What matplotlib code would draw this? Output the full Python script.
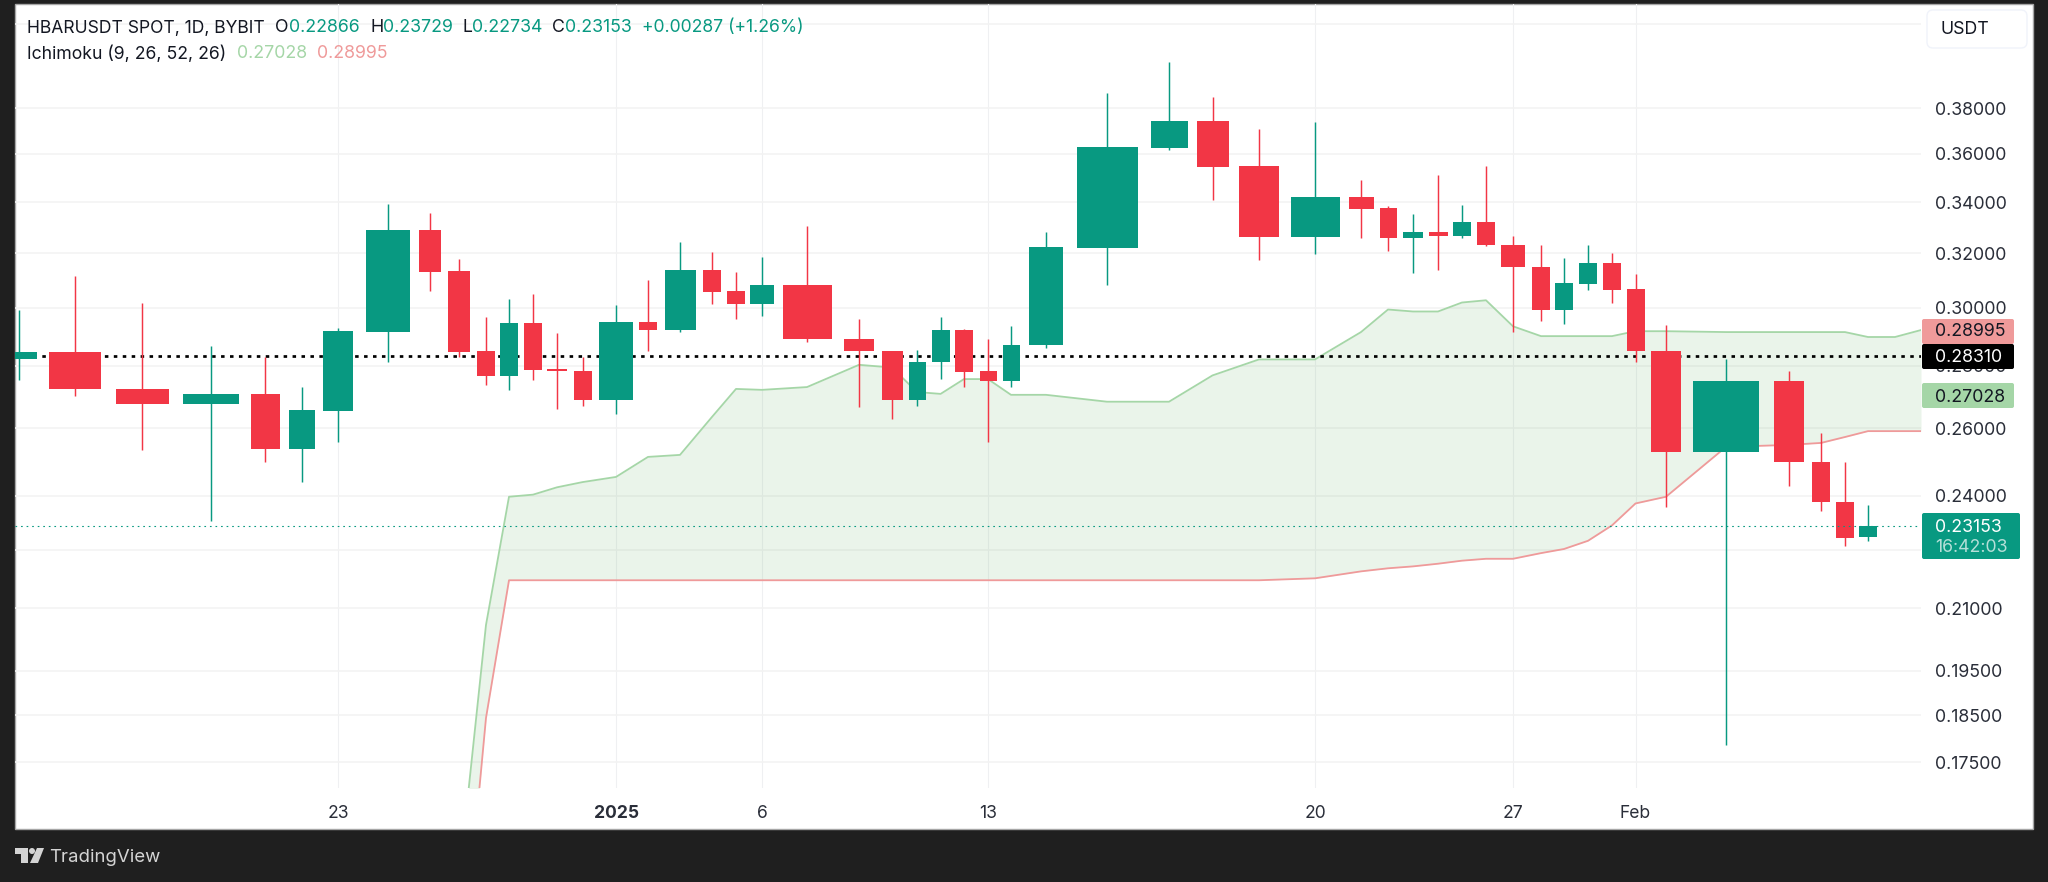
"""HBARUSDT daily candles with Ichimoku cloud, TradingView look."""
import matplotlib
matplotlib.use("Agg")
import matplotlib.pyplot as plt
import numpy as np
from matplotlib.patches import Circle, FancyBboxPatch, Polygon, Rectangle
from matplotlib.ticker import FixedLocator, FuncFormatter, NullLocator

plt.rcParams["font.family"] = ["Inter", "DejaVu Sans"]

# candles, one per day, day 0 = 2024-12-17
opens = [.2821, .2845, .2724, .2676, .2708, .2537, .2654, .2914, .3290, .3133,
         .2848, .2765, .2945, .2790, .2784, .2689, .2948, .2921, .3137, .3059,
         .3011, .3082, .2890, .2848, .2689, .2814, .2921, .2781, .2749, .2869,
         .3220, .3626, .3743, .3550, .3263, .3421, .3376, .3259, .3282, .3267,
         .3322, .3231, .3148, .2990, .3085, .3163, .3067, .2848, .2528, .2749,
         .2498, .2383, .22866]
highs = [.2990, .3115, .3015, .2865, .2828, .2730, .2928, .3392, .3357, .3178,
         .2966, .3030, .3048, .2910, .2828, .3008, .3100, .3243, .3204, .3130,
         .3185, .3306, .2959, .2850, .2852, .2966, .2924, .2890, .2934, .3282,
         .3870, .4013, .3851, .3709, .3739, .3492, .3384, .3353, .3512, .3388,
         .3550, .3267, .3231, .3182, .3231, .3200, .3122, .2938, .2821, .2781,
         .2585, .2498, .23729]
lows = [.2752, .2702, .2534, .2328, .2498, .2439, .2558, .2814, .3059, .2828,
        .2737, .2721, .2752, .2660, .2670, .2645, .2848, .2915, .3011, .2959,
        .2969, .2879, .2667, .2629, .2670, .2756, .2730, .2558, .2730, .2859,
        .3082, .3617, .3408, .3174, .3196, .3259, .3208, .3126, .3137, .3259,
        .3228, .2914, .2952, .2941, .3063, .3018, .2814, .2367, .1786, .2427,
        .2358, .2261, .22734]
closes = [.2845, .2724, .2676, .2708, .2537, .2657, .2917, .3290, .3130, .2845,
          .2765, .2945, .2787, .2784, .2689, .2948, .2921, .3137, .3056, .3011,
          .3082, .2890, .2848, .2689, .2814, .2921, .2778, .2749, .2869, .3224,
          .3630, .3743, .3546, .3263, .3421, .3373, .3259, .3282, .3267, .3322,
          .3231, .3148, .2990, .3089, .3163, .3063, .2848, .2528, .2749, .2498,
          .2383, .2283, .23153]

# ichimoku spans, starting at cloud_start_day and running past the last candle
cloud_start_day = 9
span_a = [.1521, .2059, .2397, .2403, .2424, .2439, .2454, .2513, .2519, .2635,
          .2724, .2721, .2730, .2803, .2794, .2714, .2708, .2756, .2756, .2705,
          .2705, .2683, .2683, .2768, .2821, .2821, .2914, .2993, .2986, .2986,
          .3018, .3026, .2934, .2900, .2900, .2900, .2900, .2917, .2917, .2914,
          .2914, .2914, .2914, .2897, .2897, .2921]
span_b = [.1310, .1844, .2171, .2171, .2171, .2171, .2171, .2171, .2171, .2171,
          .2171, .2171, .2171, .2171, .2171, .2171, .2171, .2171, .2171, .2171,
          .2171, .2171, .2171, .2171, .2171, .2176, .2194, .2202, .2207, .2214,
          .2222, .2227, .2227, .2242, .2253, .2275, .2317, .2378, .2397, .2543,
          .2549, .2555, .2573, .2591, .2591, .2591]

last_price = 0.23153
high_line = 0.2831
price_ticks = [.175, .185, .195, .21, .225, .24, .26, .28, .30, .32, .34, .36, .38, .42]
# these two grid levels have no label to show, the tags cover them
unlabelled_ticks = [.225, .42]
tick_days = [6, 15, 20, 27, 34, 41, 46]
tick_labels = ["23", "2025", "6", "13", "20", "27", "Feb"]

# the screenshot's time axis is uneven: pixel column of each day and body half width
day_px = [19, 75, 142, 211, 265, 302, 338, 387.5, 430, 459, 486, 509, 533, 557,
          582.5, 616, 648, 680, 712, 736, 762, 807, 859, 892, 917, 940.6, 964,
          988, 1011, 1046, 1107, 1169, 1212.5, 1259, 1315, 1361, 1388, 1413,
          1438, 1462, 1486, 1513, 1541, 1564, 1588, 1612, 1635.5, 1666, 1726,
          1789, 1821, 1845, 1868, 1895, 1921]
body_half_px = [18, 26, 26.5, 28, 14.5, 13, 15, 22, 11, 11, 9, 9, 9, 10, 9, 17, 9,
                15.5, 9, 9, 12, 24.5, 15, 10.5, 8.5, 9, 9, 8.5, 8.5, 17, 30.5, 18.5,
                16, 20, 24.5, 12.5, 8.5, 10, 9.5, 9, 9, 12, 9, 9, 9, 9, 9, 15, 33,
                15, 9, 9, 9]

GREEN = "#089981"
RED = "#F23645"
SPAN_A_COLOR = "#A5D6A7"
SPAN_B_COLOR = "#EF9A9A"
DARK = "#1F1F1F"
TEXT = "#2A2E39"

WIDTH, HEIGHT = 2048, 882
AX_L, AX_R, AX_T, AX_B = 15, 1921, 4, 788

knot_days = np.r_[-5, np.arange(len(day_px)), 70]
knot_px = np.r_[-261, day_px, 2300]


def to_px(day):
    return np.interp(day, knot_days, knot_px)


def to_day(px):
    return np.interp(px, knot_px, knot_days)


def price_label(value, pos):
    if any(abs(value - t) < 1e-9 for t in unlabelled_ticks):
        return ""
    return f"{value:.5f}"


fig = plt.figure(figsize=(WIDTH / 100, HEIGHT / 100), dpi=100, facecolor=DARK)
fig.add_artist(Rectangle((15 / WIDTH, 1 - 829 / HEIGHT), (2033 - 15) / WIDTH, 825 / HEIGHT,
                         transform=fig.transFigure, facecolor="white",
                         edgecolor="#A6A6A6", linewidth=1, zorder=-1))

ax = fig.add_axes([AX_L / WIDTH, 1 - AX_B / HEIGHT, (AX_R - AX_L) / WIDTH, (AX_B - AX_T) / HEIGHT])
ax.patch.set_visible(False)
ax.set_xscale("function", functions=(to_px, to_day))
ax.set_yscale("log")

days = np.arange(len(opens))
cloud_days = cloud_start_day + np.arange(len(span_a))
colors = [GREEN if c >= o else RED for o, c in zip(opens, closes)]

# cloud
ax.fill_between(cloud_days, span_a, span_b, color="#43A047", alpha=0.11, linewidth=0, zorder=2)
ax.plot(cloud_days, span_a, color=SPAN_A_COLOR, linewidth=1.3, zorder=3)
ax.plot(cloud_days, span_b, color=SPAN_B_COLOR, linewidth=1.3, zorder=3)

# price lines
ax.axhline(high_line, color="black", linewidth=1.95, linestyle=(0, (1.3, 2.0)), zorder=4)

# candles
ax.vlines(days, lows, highs, colors=colors, linewidth=1.05, zorder=5)
px = np.array(day_px[:len(days)])
half = np.array(body_half_px)
left = to_day(px - half)
right = to_day(px + half)
bottoms = np.minimum(opens, closes)
tops = np.maximum(opens, closes)
ax.bar(left, tops - bottoms, width=right - left, bottom=bottoms, align="edge",
       color=colors, linewidth=0, zorder=6)

ax.axhline(last_price, color=GREEN, linewidth=0.8, linestyle=(0, (1.5, 3.5)), zorder=7)

# axes
ax.set_xlim(to_day(AX_L), to_day(AX_R))
ax.set_ylim(0.16969, 0.4300)
ax.yaxis.set_major_locator(FixedLocator(price_ticks))
ax.yaxis.set_minor_locator(NullLocator())
ax.yaxis.set_major_formatter(FuncFormatter(price_label))
ax.yaxis.tick_right()
ax.tick_params(axis="y", length=0, pad=10, labelsize=12.8, labelcolor=TEXT)
ax.set_xticks(tick_days)
ax.set_xticklabels(tick_labels)
ax.xaxis.set_minor_locator(NullLocator())
ax.tick_params(axis="x", length=0, pad=12, labelsize=12.6, labelcolor=TEXT)
ax.get_xticklabels()[1].set_fontweight("bold")
ax.grid(True, axis="y", color="#F3F3F3", linewidth=1.2, zorder=0)
ax.grid(True, axis="x", color="#EFF0F2", linewidth=0.8, zorder=0)
ax.set_axisbelow(True)
for spine in ax.spines.values():
    spine.set_visible(False)

# overlay in pixel coordinates for legend, tags and logo
ov = fig.add_axes([0, 0, 1, 1], zorder=5)
ov.set_xlim(0, WIDTH)
ov.set_ylim(HEIGHT, 0)
ov.axis("off")


def tag(x0, x1, y0, y1, color):
    ov.add_patch(FancyBboxPatch((x0 + 1, y0 + 1), x1 - x0 - 2, y1 - y0 - 2,
                                boxstyle="round,pad=1,rounding_size=2",
                                facecolor=color, edgecolor="none"))


def label(x, y, s, color=TEXT, size=12.8, **kw):
    ov.text(x, y + 1, s, color=color, fontsize=size, va="center", ha="left", **kw)


# USDT box
ov.add_patch(FancyBboxPatch((1931, 14), 92, 30, boxstyle="round,pad=4,rounding_size=6",
                            facecolor="white", edgecolor="#F0F3FA", linewidth=1))
label(1940.5, 28, "USDT", color="#131722")

# price tags
tag(1922, 2014, 319, 344, SPAN_B_COLOR)
label(1935, 331, "0.28995", color="#131722")
tag(1922, 2014, 344, 369, "black")
label(1935, 356, "0.28310", color="white")
tag(1922, 2014, 383, 408, SPAN_A_COLOR)
label(1935, 396, "0.27028", color="#131722")
tag(1922, 2020, 513, 559, GREEN)
label(1935, 526, "0.23153", color="white")
label(1935, 547, "16:42:03", color="#B5DFD8")

# legend lines
label(27, 27, "HBARUSDT SPOT, 1D, BYBIT", color="#131722", size=12.6)
for x, s in [(275, "O"), (370, "H"), (462.5, "L"), (552, "C")]:
    label(x, 27, s, color="#131722")
for x, s in [(289, "0.22866"), (383, "0.23729"), (472, "0.22734"), (565, "0.23153")]:
    label(x, 27, s, color=GREEN)
label(641.5, 27, "+0.00287 (+1.26%)", color=GREEN, size=12.65)
label(27, 53, "Ichimoku (9, 26, 52, 26)", color="#131722", size=12.7)
label(237, 53, "0.27028", color=SPAN_A_COLOR)
label(316.5, 53, "0.28995", color=SPAN_B_COLOR)

# TradingView logo
LOGO = "#D4D4D4"
ov.add_patch(Polygon([(15, 848), (28, 848), (28, 863), (21, 863), (21, 854), (15, 854)],
                     facecolor=LOGO, edgecolor="none"))
ov.add_patch(Circle((32, 851), 3, facecolor=LOGO, edgecolor="none"))
ov.add_patch(Polygon([(37, 848), (44, 848), (38, 863), (30, 863)], facecolor=LOGO, edgecolor="none"))
label(49, 856, "TradingView", color=LOGO, size=13.4)

fig.savefig("out.png", dpi=100, facecolor=DARK)
plt.close("all")
